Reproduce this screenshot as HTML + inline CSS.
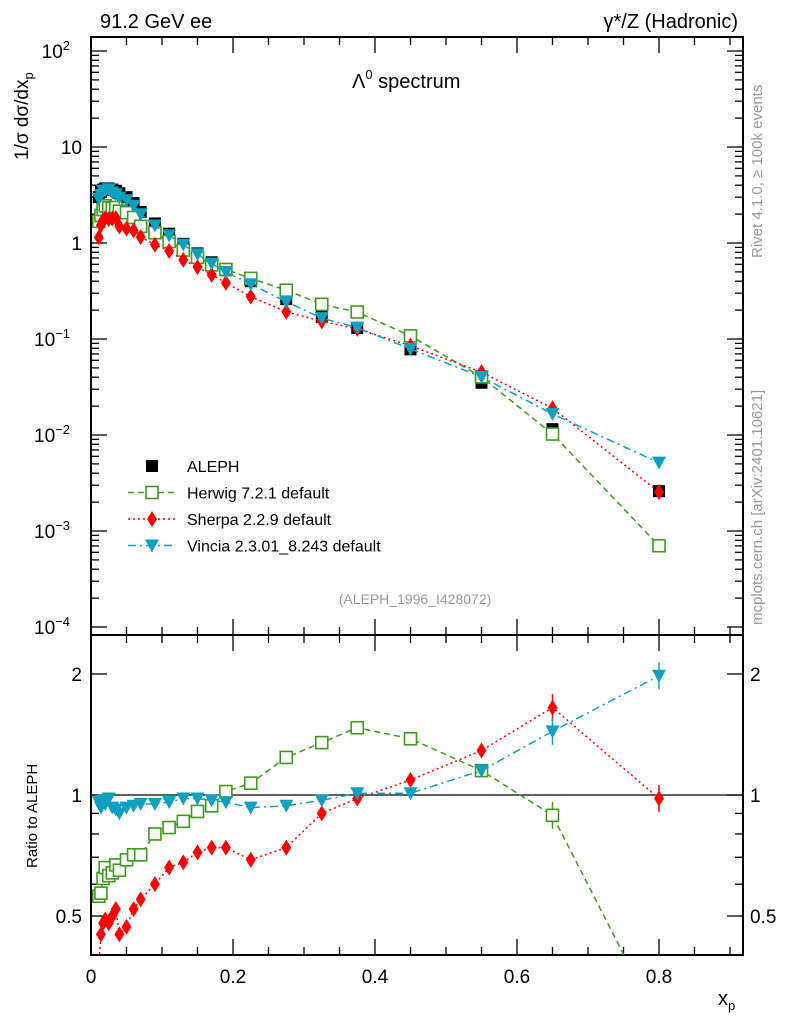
<!DOCTYPE html>
<html><head><meta charset="utf-8"><style>
body{margin:0;background:#fff;}
svg text{font-family:"Liberation Sans",sans-serif;}
</style></head><body>
<svg id="c" width="786" height="1024" xmlns="http://www.w3.org/2000/svg"></svg>
<script>
const xs=[0.011,0.014,0.017,0.02,0.025,0.03,0.035,0.04,0.05,0.06,0.07,0.09,0.11,0.13,0.15,0.17,0.19,0.225,0.275,0.325,0.375,0.45,0.55,0.65,0.8];
const aleph=[3.0,3.4,3.6,3.7,3.7,3.6,3.5,3.3,3.0,2.6,2.1,1.6,1.25,0.98,0.78,0.63,0.52,0.40,0.26,0.17,0.13,0.078,0.035,0.0115,0.0026];
const herwigRatio=[0.56,0.57,0.62,0.66,0.63,0.64,0.67,0.65,0.69,0.71,0.71,0.80,0.83,0.86,0.91,0.94,1.02,1.07,1.24,1.35,1.47,1.38,1.15,0.89,0.27];
const sherpaRatio=[0.38,0.45,0.48,0.49,0.48,0.50,0.52,0.45,0.47,0.52,0.55,0.60,0.66,0.68,0.72,0.74,0.74,0.69,0.74,0.90,0.98,1.09,1.29,1.65,0.98];
const vinciaRatio=[0.96,0.93,0.97,0.95,0.98,0.93,0.92,0.90,0.93,0.94,0.95,0.95,0.96,0.98,0.98,0.97,0.96,0.93,0.94,0.97,1.01,1.01,1.15,1.44,1.98];
const herwig=aleph.map((v,i)=>v*herwigRatio[i]);
const sherpa=aleph.map((v,i)=>v*sherpaRatio[i]);
const vincia=aleph.map((v,i)=>v*vinciaRatio[i]);
const xTicks=[0,0.2,0.4,0.6,0.8];
const xTickLabels=["0","0.2","0.4","0.6","0.8"];

const NS="http://www.w3.org/2000/svg";const svg=document.getElementById('c');
function el(t,a,p){const e=document.createElementNS(NS,t);for(const k in a)e.setAttribute(k,a[k]);(p||svg).appendChild(e);return e;}
const L=91,R=743,T=37,B=635,RB=955;
const X=v=>L+v*710;
const Y=v=>243-96*Math.log10(v);
const YR=v=>795-402*Math.log10(v);
function clip(id,y0,y1){const d=el('clipPath',{id});el('rect',{x:L,y:y0,width:R-L,height:y1-y0},d);}
clip('cm',T,B);clip('cr',B,RB);
// frames
let f=el('rect',{x:L,y:T,width:R-L,height:B-T,fill:'none',stroke:'#000','stroke-width':2});

f=el('rect',{x:L,y:B,width:R-L,height:RB-B,fill:'none',stroke:'#000','stroke-width':2});

// x ticks
for(let v=0;v<=0.92;v+=0.05){const px=X(v);const maj=Math.abs(v/0.2-Math.round(v/0.2))<1e-6;const l=maj?16:8;
 [[T,1],[B,-1],[B,1],[RB,-1]].forEach(([y,s])=>el('line',{x1:px,x2:px,y1:y,y2:y+s*l,stroke:'#000','stroke-width':1.3}));}
xTicks.forEach((v,i)=>{const t=el('text',{x:X(v),y:983,'font-size':19,'text-anchor':'middle'});t.textContent=xTickLabels[i];
});
// main y ticks
for(let e=-4;e<=2;e++){for(let m=1;m<10;m++){const v=m*Math.pow(10,e);const py=Y(v);if(py<T||py>B)continue;const l=m==1?16:8;
 el('line',{x1:L,x2:L+l,y1:py,y2:py,stroke:'#000','stroke-width':1.3});el('line',{x1:R,x2:R-l,y1:py,y2:py,stroke:'#000','stroke-width':1.3});}}
const yl=[[2,"10","2"],[1,"10",""],[0,"1",""],[-1,"10","−1"],[-2,"10","−2"],[-3,"10","−3"],[-4,"10","−4"]];
yl.forEach(([e,b,s])=>{const t=el('text',{x:s?70:82,y:Y(Math.pow(10,e))+7,'font-size':19,'text-anchor':'end'});
 t.textContent=b;if(s){const ts=el('tspan',{dy:-8,'font-size':13},t);ts.textContent=s;}
 if(!s&&e==1){t.setAttribute('x',82);} });
// ratio y ticks
for(let e=-1;e<=0;e++){for(let m=1;m<10;m++){const v=m*Math.pow(10,e);const py=YR(v);if(py<B||py>RB)continue;const l=(v==1||v==2||v==0.5)?16:8;
 el('line',{x1:L,x2:L+l,y1:py,y2:py,stroke:'#000','stroke-width':1.3});el('line',{x1:R,x2:R-l,y1:py,y2:py,stroke:'#000','stroke-width':1.3});}}
[[2,"2"],[1,"1"],[0.5,"0.5"]].forEach(([v,s])=>{let t=el('text',{x:82,y:YR(v)+7,'font-size':19,'text-anchor':'end'});t.textContent=s;

t=el('text',{x:750,y:YR(v)+7,'font-size':19});t.textContent=s;});
el('line',{x1:L,x2:R,y1:YR(1),y2:YR(1),stroke:'#000','stroke-width':1.3});
// series
const series=[
 {n:'herwig',c:'#3f9a1e',d:'6,4',vals:herwig,r:herwigRatio,m:'sq'},
 {n:'sherpa',c:'#ff0000',d:'2,3',vals:sherpa,r:sherpaRatio,m:'di'},
 {n:'vincia',c:'#0fa0c0',d:'8,4,2,4',vals:vincia,r:vinciaRatio,m:'tri'}];
function marker(g,m,x,y,c){
 if(m=='sq')return el('rect',{x:x-6,y:y-6,width:12,height:12,fill:'#fff',stroke:c,'stroke-width':1.6},g);
 if(m=='di')return el('polygon',{points:`${x},${y-8} ${x+5},${y} ${x},${y+8} ${x-5},${y}`,fill:c},g);
 if(m=='tri')return el('polygon',{points:`${x-7},${y-6} ${x+7},${y-6} ${x},${y+7}`,fill:c},g);
 return el('rect',{x:x-6,y:y-6,width:12,height:12,fill:'#000'},g);}
let gd=el('g',{'clip-path':'url(#cm)'});
xs.forEach((x,i)=>marker(gd,'sqf',X(x),Y(aleph[i]),'#000'));
series.forEach(s=>{
 const g=el('g',{'clip-path':'url(#cm)'});
 el('polyline',{points:xs.map((x,i)=>X(x)+','+Y(s.vals[i])).join(' '),fill:'none',stroke:s.c,'stroke-width':1.5,'stroke-dasharray':s.d},g);
 xs.forEach((x,i)=>marker(g,s.m,X(x),Y(s.vals[i]),s.c));
 const g2=el('g',{'clip-path':'url(#cr)'});
 el('polyline',{points:xs.map((x,i)=>X(x)+','+YR(s.r[i])).join(' '),fill:'none',stroke:s.c,'stroke-width':1.5,'stroke-dasharray':s.d},g2);
 xs.forEach((x,i)=>{if(x>0.6)el('line',{x1:X(x),x2:X(x),y1:YR(s.r[i]*1.08),y2:YR(s.r[i]/1.08),stroke:s.c,'stroke-width':1.5},g2);marker(g2,s.m,X(x),YR(s.r[i]),s.c);});
});
// legend
const leg=[['ALEPH',null],['Herwig 7.2.1 default',series[0]],['Sherpa 2.2.9 default',series[1]],['Vincia 2.3.01_8.243 default',series[2]]];
leg.forEach(([t,s],i)=>{const y=466+i*26.5;const g=el('g',{});
 if(s){el('line',{x1:128,x2:176,y1:y,y2:y,stroke:s.c,'stroke-width':1.5,'stroke-dasharray':s.d},g);marker(g,s.m,152,y,s.c);}else marker(g,'sqf',152,y,'#000');
 const tx=el('text',{x:187,y:y+6,'font-size':16},g);tx.textContent=t;});
// texts
function txt(s,a,name){const t=el('text',a);t.textContent=s;return t;}
txt('91.2 GeV ee',{x:100,y:28,'font-size':20},'top-left-label');
txt('γ*/Z (Hadronic)',{x:738,y:28,'font-size':20,'text-anchor':'end'},'top-right-label');
let t=txt('Λ',{x:352,y:88,'font-size':20},'plot-title');let ts=el('tspan',{dy:-9,'font-size':13},t);ts.textContent='0';ts=el('tspan',{dy:9},t);ts.textContent=' spectrum';
txt('(ALEPH_1996_I428072)',{x:415,y:604,'font-size':14,fill:'#999','text-anchor':'middle'},'analysis-id');
txt('Rivet 4.1.0, ≥ 100k events',{x:0,y:0,'font-size':15,fill:'#999',transform:'translate(762,258) rotate(-90)'},'rivet-label');
txt('mcplots.cern.ch [arXiv:2401.10621]',{x:0,y:0,'font-size':15,fill:'#999',transform:'translate(762,625) rotate(-90)'},'mcplots-label');
t=txt('1/σ  dσ/dx',{x:0,y:0,'font-size':19,transform:'translate(28,160) rotate(-90)'},'y-axis-title');ts=el('tspan',{dy:5,'font-size':13},t);ts.textContent='p';
txt('Ratio to ALEPH',{x:0,y:0,'font-size':15,transform:'translate(37,868) rotate(-90)'},'ratio-axis-title');
t=txt('x',{x:718,y:1005,'font-size':20},'x-axis-title');ts=el('tspan',{dy:5,'font-size':13},t);ts.textContent='p';
</script>
</body></html>
